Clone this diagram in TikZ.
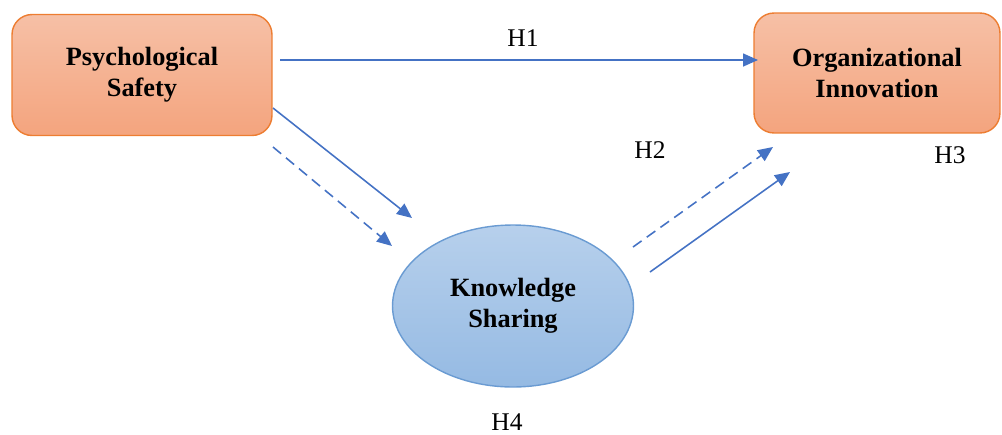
\documentclass[tikz,border=0pt]{standalone}
\usepackage{fontspec}
\setmainfont{Liberation Serif}
\usetikzlibrary{arrows.meta,shapes.geometric}
\definecolor{boxline}{HTML}{ED7D31}
\definecolor{boxtop}{HTML}{F6C0A6}
\definecolor{boxbot}{HTML}{F4A47E}
\definecolor{ellline}{HTML}{6A9BD2}
\definecolor{elltop}{HTML}{B7D0EC}
\definecolor{ellbot}{HTML}{95BAE3}
\definecolor{arr}{HTML}{4472C4}
\begin{document}
\begin{tikzpicture}[x=0.02cm, y=-0.02cm,
  var/.style={draw=boxline, line width=0.8pt, rounded corners=0.4cm,
              top color=boxtop, bottom color=boxbot, align=center,
              inner sep=0pt, font=\fontsize{15}{17.8}\selectfont\bfseries},
  med/.style={ellipse, draw=ellline, line width=0.8pt,
              top color=elltop, bottom color=ellbot, align=center,
              inner sep=0pt, minimum width=4.82cm, minimum height=3.24cm,
              font=\fontsize{15}{17.5}\selectfont\bfseries},
  hyp/.style={font=\fontsize{14.5}{17}\selectfont},
  path/.style={draw=arr, line width=0.9pt, -{Triangle[length=3mm,width=2.6mm]}},
  mpath/.style={path, dash pattern=on 6pt off 3.6pt},
]
\useasboundingbox (0,0) rectangle (1002,434);
% Constructs
\node[var, minimum width=5.2cm, minimum height=2.42cm] (psafe) at (142,75) {Psychological\\Safety};
\node[var, minimum width=4.92cm, minimum height=2.4cm] (orginn) at (877,73) {Organizational\\Innovation};
\node[med] (ksh) at (513,306) {Knowledge\\Sharing};
% Hypothesis labels
\node[hyp] (h1) at (523,38) {H1};
\node[hyp] (h2) at (650,150) {H2};
\node[hyp] (h3) at (950,155) {H3};
\node[hyp] (h4) at (507,422) {H4};
% Path end points
\coordinate (a1) at (280,60);   \coordinate (b1) at (758,60);
\coordinate (a2) at (273,108);  \coordinate (b2) at (412,218);
\coordinate (a3) at (273,147);  \coordinate (b3) at (392,246);
\coordinate (a4) at (633,247);  \coordinate (b4) at (773,147);
\coordinate (a5) at (650,272);  \coordinate (b5) at (790,172);
% Paths
\draw[path] (a1) -- (b1);
\draw[path] (a2) -- (b2);
\draw[mpath] (a3) -- (b3);
\draw[mpath] (a4) -- (b4);
\draw[path] (a5) -- (b5);
\end{tikzpicture}
\end{document}
